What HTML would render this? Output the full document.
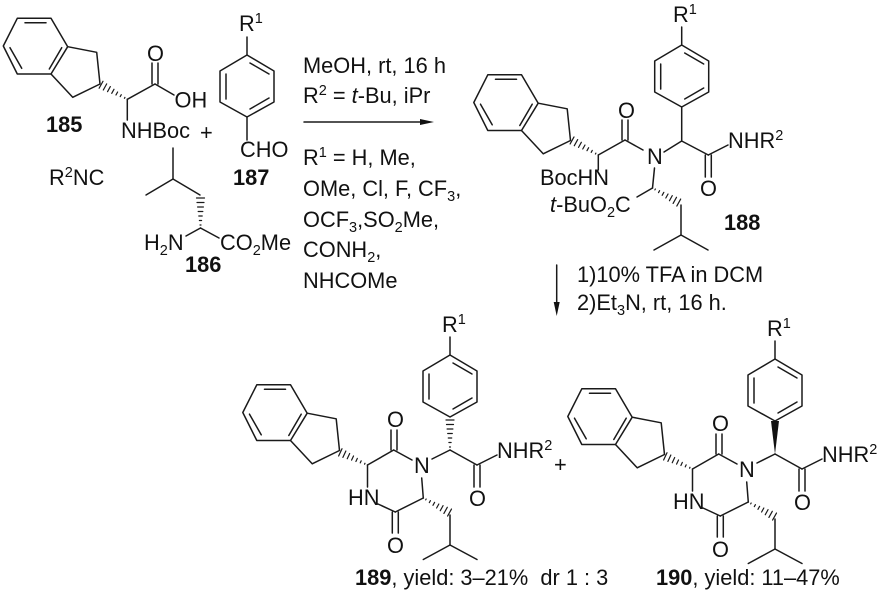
<!DOCTYPE html>
<html><head><meta charset="utf-8"><style>
html,body{margin:0;padding:0;background:#fff}
svg{display:block}
line,polyline,polygon.o{stroke:#1a1a1a;stroke-width:1.5;fill:none;stroke-linecap:round;stroke-linejoin:round}
text{font-family:"Liberation Sans",sans-serif;font-size:21.8px;fill:#111;white-space:pre}
.b{font-weight:bold}.i{font-style:italic}
.s{font-size:14.5px}
</style></head><body>
<svg width="880" height="595" viewBox="0 0 880 595" xmlns="http://www.w3.org/2000/svg">
<defs>
<g id="h"><line x1="3" y1="-.5" x2="3" y2=".5" style="stroke-width:1.2"/><line x1="7.5" y1="-1.1" x2="7.5" y2="1.1" style="stroke-width:1.2"/><line x1="12" y1="-1.7" x2="12" y2="1.7" style="stroke-width:1.2"/><line x1="16.5" y1="-2.3" x2="16.5" y2="2.3" style="stroke-width:1.2"/><line x1="21" y1="-2.9" x2="21" y2="2.9" style="stroke-width:1.2"/><line x1="25.5" y1="-3.5" x2="25.5" y2="3.5" style="stroke-width:1.2"/><line x1="30" y1="-4" x2="30" y2="4" style="stroke-width:1.2"/></g>
<g id="ind">
<polygon class="o" points="17.3,18.3 51,18.3 67.7,46.7 51,74 17.3,74 3.3,46"/>
<polyline points="67.7,46.7 96.7,52.3 100,84 72.7,97.3 51,74"/>
<line x1="25" y1="22.7" x2="46" y2="22.7"/><line x1="61.7" y1="47.7" x2="49.3" y2="69"/><line x1="10" y1="47.7" x2="21.7" y2="68.3"/>
</g>
<g id="ar">
<polygon class="o" points="0,0 27,16 27,47 0,62 -27,47 -27,16"/>
<line x1="3" y1="8" x2="22" y2="19"/><line x1="-21" y1="19" x2="-21" y2="44"/><line x1="3" y1="54" x2="22" y2="43"/>
<line x1="0" y1="0" x2="0" y2="-18"/>
</g>
<g id="dkp">
<use href="#ind" x="239.5" y="366.5"/>
<use href="#ar" x="450" y="355"/>
<use href="#h" transform="translate(367.5,465) rotate(205)"/>
<line x1="367.5" y1="465" x2="393.7" y2="450"/>
<line x1="391" y1="450" x2="391" y2="430"/><line x1="397" y1="450" x2="397" y2="430"/>
<line x1="393.7" y1="450" x2="412" y2="460"/>
<line x1="367.5" y1="465" x2="367.5" y2="487"/>
<line x1="378" y1="504" x2="395.3" y2="512"/>
<line x1="392.3" y1="512" x2="392.3" y2="533"/><line x1="398.3" y1="512" x2="398.3" y2="533"/>
<line x1="395.3" y1="512" x2="423.3" y2="498"/>
<line x1="423.3" y1="498" x2="421.7" y2="478"/>
<use href="#h" transform="translate(423.3,498) rotate(29)"/>
<line x1="450" y1="515" x2="450" y2="545"/>
<line x1="450" y1="545" x2="423.3" y2="559.5"/><line x1="450" y1="545" x2="477" y2="559.5"/>
<line x1="432" y1="459" x2="450" y2="450"/>
<line x1="450" y1="450" x2="477" y2="465"/>
<line x1="474" y1="465" x2="474" y2="487"/><line x1="480" y1="465" x2="480" y2="487"/>
<line x1="477" y1="465" x2="497" y2="455"/>
</g>
</defs>

<!-- 185 -->
<use href="#ind"/>
<use href="#h" transform="translate(127.3,99.3) rotate(209)"/>
<line x1="127.3" y1="99.3" x2="155" y2="84"/>
<line x1="152" y1="84" x2="152" y2="63"/><line x1="158" y1="84" x2="158" y2="63"/>
<line x1="155" y1="84" x2="174" y2="95"/>
<line x1="127.3" y1="99.3" x2="127.3" y2="120"/>
<text x="147" y="61">O</text><text x="174.5" y="107.5">OH</text>
<text x="121" y="138">NHBoc</text><text x="200" y="140">+</text>
<text class="b" x="46" y="132">185</text>
<text x="49" y="185">R<tspan class="s" dy="-8">2</tspan><tspan dy="8">NC</tspan></text>

<!-- 187 -->
<use href="#ar" x="247" y="55"/>
<line x1="247" y1="117" x2="247" y2="140"/>
<text x="239" y="31">R<tspan class="s" dy="-8">1</tspan></text>
<text x="240" y="157">CHO</text>
<text class="b" x="233" y="185">187</text>

<!-- 186 -->
<line x1="173" y1="148" x2="173" y2="179"/><line x1="173" y1="179" x2="146" y2="195"/><line x1="173" y1="179" x2="200" y2="195"/>
<use href="#h" transform="translate(200.5,228) rotate(-90)"/>
<line x1="200.5" y1="228" x2="219" y2="238"/><line x1="200.5" y1="228" x2="186" y2="236"/>
<text x="144" y="250">H<tspan class="s" dy="5">2</tspan><tspan dy="-5">N</tspan></text>
<text x="220" y="250">CO<tspan class="s" dy="5">2</tspan><tspan dy="-5">Me</tspan></text>
<text class="b" x="185" y="272">186</text>

<!-- conditions -->
<text x="303" y="73">MeOH, rt, 16 h</text>
<text x="303" y="103">R<tspan class="s" dy="-8">2</tspan><tspan dy="8"> = </tspan><tspan class="i">t</tspan>-Bu, iPr</text>
<line x1="304" y1="122" x2="424" y2="122"/><polygon points="434,122 420,119 420,125" fill="#111"/>
<text x="303" y="165">R<tspan class="s" dy="-8">1</tspan><tspan dy="8"> = H, Me,</tspan></text>
<text x="303" y="196">OMe, Cl, F, CF<tspan class="s" dy="5">3</tspan><tspan dy="-5">,</tspan></text>
<text x="303" y="227">OCF<tspan class="s" dy="5">3</tspan><tspan dy="-5">,SO</tspan><tspan class="s" dy="5">2</tspan><tspan dy="-5">Me,</tspan></text>
<text x="303" y="257">CONH<tspan class="s" dy="5">2</tspan><tspan dy="-5">,</tspan></text>
<text x="303" y="288">NHCOMe</text>

<!-- 188 -->
<use href="#ind" x="470.5" y="56.5"/>
<use href="#ar" x="681.7" y="45"/>
<use href="#h" transform="translate(598.3,155) rotate(209)"/>
<line x1="598.3" y1="155" x2="625" y2="140"/>
<line x1="622" y1="140" x2="622" y2="120"/><line x1="628" y1="140" x2="628" y2="120"/>
<line x1="625" y1="140" x2="643" y2="150"/>
<line x1="598.3" y1="155" x2="598.3" y2="170"/>
<line x1="664" y1="152" x2="681.7" y2="141"/><line x1="681.7" y1="141" x2="681.7" y2="107"/>
<line x1="681.7" y1="141" x2="708.3" y2="155"/>
<line x1="705.3" y1="155" x2="705.3" y2="177"/><line x1="711.3" y1="155" x2="711.3" y2="177"/>
<line x1="708.3" y1="155" x2="728" y2="145"/>
<line x1="654.5" y1="168" x2="652.5" y2="188"/>
<use href="#h" transform="translate(652.5,188) rotate(29)"/>
<line x1="652.5" y1="188" x2="637" y2="197"/>
<line x1="681" y1="205" x2="681" y2="235"/><line x1="681" y1="235" x2="654" y2="250"/><line x1="681" y1="235" x2="708" y2="250"/>
<text x="618" y="118">O</text><text x="647" y="164">N</text><text x="700" y="196">O</text>
<text x="540" y="185">BocHN</text>
<text x="550" y="212"><tspan class="i">t</tspan>-BuO<tspan class="s" dy="5">2</tspan><tspan dy="-5">C</tspan></text>
<text x="728" y="148">NHR<tspan class="s" dy="-8">2</tspan></text>
<text x="673" y="22">R<tspan class="s" dy="-8">1</tspan></text>
<text class="b" x="724" y="230">188</text>

<!-- arrow 2 -->
<line x1="556.7" y1="265" x2="556.7" y2="308"/><polygon points="556.7,316 553.7,302 559.7,302" fill="#111"/>
<text x="577" y="282">1)10% TFA in DCM</text>
<text x="577" y="310">2)Et<tspan class="s" dy="5">3</tspan><tspan dy="-5">N, rt, 16 h.</tspan></text>

<!-- 189 -->
<use href="#dkp"/>
<use href="#h" transform="translate(450,450) rotate(-90)"/>
<text x="387" y="427">O</text><text x="414" y="473">N</text><text x="348" y="505">HN</text><text x="387" y="553">O</text><text x="469" y="506">O</text>
<text x="497" y="458">NHR<tspan class="s" dy="-8">2</tspan></text>
<text x="442" y="332">R<tspan class="s" dy="-8">1</tspan></text>
<text x="554" y="472">+</text>

<!-- 190 -->
<use href="#dkp" x="325" y="4"/>
<polygon points="775,454 771,421 779,421" fill="#111"/>
<text x="712" y="431">O</text><text x="739" y="477">N</text><text x="673" y="509">HN</text><text x="712" y="557">O</text><text x="794" y="510">O</text>
<text x="822" y="462">NHR<tspan class="s" dy="-8">2</tspan></text>
<text x="767" y="336">R<tspan class="s" dy="-8">1</tspan></text>

<text x="355" y="585" xml:space="preserve"><tspan class="b">189</tspan>, yield: 3–21%  dr 1 : 3</text>
<text x="656" y="585"><tspan class="b">190</tspan>, yield: 11–47%</text>
</svg>
</body></html>
